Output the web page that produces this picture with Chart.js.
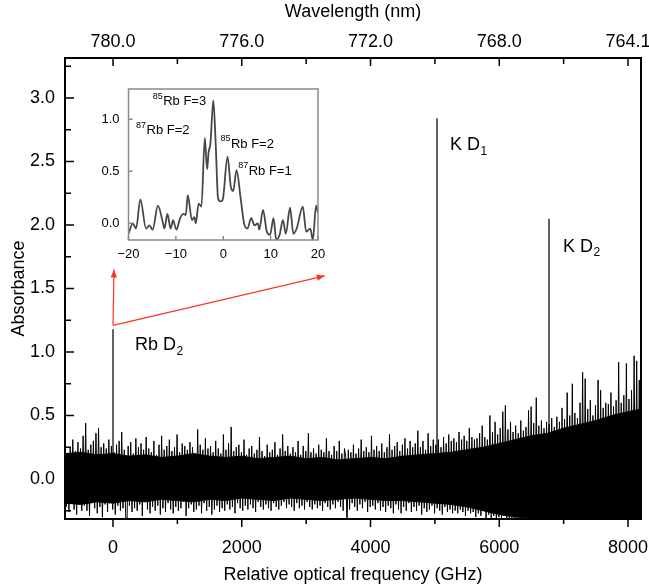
<!DOCTYPE html>
<html>
<head>
<meta charset="utf-8">
<title>Absorbance spectrum</title>
<script src="https://cdn.jsdelivr.net/npm/chart.js@4.4.1/dist/chart.umd.min.js"></script>
<style>
  html, body { margin: 0; padding: 0; background: #fff; }
  #wrap { position: relative; width: 649px; height: 586px; }
  #main { position: absolute; left: 0; top: 0; }
  #inset { position: absolute; left: 80px; top: 80px; }
</style>
</head>
<body>
<div id="wrap">
  <canvas id="main" width="649" height="586"></canvas>
  <canvas id="inset" width="250" height="190"></canvas>
</div>
<script>
// spectrum, one sample every 20 GHz from -745 GHz
const freqStart = -745;
const freqStep = 20;
const absorbance = [
  0.27,-0.22,0.2,-0.26,0.25,-0.18,0.31,-0.24,0.22,-0.28,0.29,-0.2,0.24,-0.25,0.34,-0.21,
  0.44,-0.25,0.23,-0.29,0.27,-0.19,0.3,-0.23,0.36,-0.27,0.4,-0.22,0.25,-0.3,0.28,-0.2,
  0.24,-0.26,0.31,-0.19,0.26,-0.24,0.21,-0.28,0.27,-0.21,0.3,-0.25,0.37,-0.23,0.23,-0.27,
  -0.45,0.26,-0.21,0.29,-0.26,0.2,-0.23,0.32,-0.25,0.25,-0.2,0.28,-0.29,0.23,-0.18,0.33,
  -0.24,0.24,-0.27,0.21,-0.22,0.3,-0.25,0.19,-0.21,0.27,-0.28,0.34,-0.23,0.23,-0.26,0.26,
  -0.19,0.31,-0.24,0.22,-0.27,0.25,-0.22,0.35,-0.25,0.21,-0.23,0.28,-0.18,0.26,-0.29,0.23,
  -0.23,0.29,-0.2,0.25,-0.26,0.2,-0.24,0.39,-0.21,0.27,-0.27,0.23,-0.19,0.32,-0.25,0.24,
  -0.22,0.26,-0.28,0.21,-0.24,0.3,-0.21,0.24,-0.26,0.2,-0.23,0.35,-0.25,0.23,-0.2,0.28,
  -0.24,0.41,-0.22,0.22,-0.27,0.25,-0.19,0.27,-0.23,0.21,-0.25,0.31,-0.21,0.19,-0.24,0.24,
  -0.2,0.26,-0.23,0.2,-0.26,0.23,-0.18,0.33,-0.22,0.22,-0.24,0.18,-0.2,0.27,-0.23,0.21,
  -0.25,0.23,-0.19,0.29,-0.22,0.19,-0.24,0.24,-0.21,0.35,-0.18,0.22,-0.23,0.26,-0.2,0.2,
  -0.22,0.25,-0.25,0.21,-0.19,0.3,-0.23,0.19,-0.21,0.26,-0.24,0.22,-0.18,0.36,-0.22,0.21,
  -0.24,0.24,-0.2,0.2,-0.23,0.27,-0.21,0.23,-0.25,0.21,-0.19,0.32,-0.22,0.22,-0.24,0.19,
  -0.2,0.26,-0.23,0.22,-0.18,0.3,-0.22,0.2,-0.25,0.24,0.18,-0.42,0.23,-0.24,0.21,-0.19,
  0.27,-0.22,0.2,-0.25,0.24,-0.2,0.31,-0.23,0.22,-0.18,0.25,-0.26,0.21,-0.22,0.34,-0.21,
  0.23,-0.24,0.26,-0.19,0.22,-0.25,0.28,-0.22,0.21,-0.26,0.25,-0.21,0.35,-0.23,0.23,-0.27,
  0.26,-0.2,0.29,-0.24,0.22,-0.27,0.27,-0.22,0.32,-0.25,0.24,-0.19,0.3,-0.26,0.25,-0.22,
  0.28,-0.25,0.38,-0.21,0.25,-0.28,0.3,-0.23,0.23,-0.26,0.36,-0.24,0.26,-0.21,0.31,-0.27,
  0.27,-0.23,0.31,-0.25,0.25,-0.28,0.33,-0.22,0.28,-0.26,0.35,-0.24,0.3,-0.27,0.32,-0.25,
  0.29,-0.27,0.37,-0.24,0.31,-0.26,0.34,-0.29,0.3,-0.25,0.4,-0.27,0.33,-0.26,0.31,-0.3,
  0.32,-0.27,0.36,-0.29,0.42,-0.25,0.33,-0.31,0.31,-0.28,0.5,-0.31,0.37,-0.29,0.45,-0.32,
  0.35,-0.3,0.4,-0.32,0.53,-0.29,0.58,-0.34,0.39,-0.31,0.45,-0.33,0.37,-0.32,0.42,-0.3,
  0.36,-0.3,0.46,-0.27,0.38,-0.32,0.41,-0.29,0.54,-0.31,0.57,-0.28,0.44,-0.33,0.64,-0.3,
  0.42,-0.31,0.46,-0.34,0.4,-0.3,0.45,-0.33,0.43,-0.29,0.48,-0.35,0.41,-0.32,0.49,-0.3,
  0.45,-0.34,0.56,-0.31,0.47,-0.36,0.68,-0.33,0.5,-0.3,0.75,-0.35,0.52,-0.33,0.48,-0.36,
  0.6,-0.32,0.84,-0.35,0.79,-0.34,0.55,-0.37,0.62,-0.33,0.5,-0.36,0.58,-0.34,0.78,-0.35,
  0.7,-0.36,0.56,-0.33,0.6,-0.37,0.59,-0.34,0.68,-0.35,0.57,-0.38,0.62,-0.34,0.92,-0.36,
  0.6,-0.35,0.66,-0.37,0.91,-0.34,0.63,-0.38,0.7,-0.36,0.97,-0.35,0.93,-0.37,0.78,-0.36
];

// the dense, fully black part of the noise band (upper and lower edge)
const coreFreq = [-746, -500, -250, 0, 250, 500, 750, 1000, 1250, 1500, 1750, 2000, 2250,
  2500, 2750, 3000, 3250, 3500, 3750, 4000, 4250, 4500, 4750, 5000, 5250, 5500,
  5750, 6000, 6250, 6500, 6750, 7000, 7250, 7500, 7750, 8000, 8202];
const coreTop = [0.2, 0.21, 0.19, 0.2, 0.18, 0.19, 0.17, 0.18, 0.2, 0.18, 0.17, 0.18, 0.16,
  0.17, 0.18, 0.16, 0.17, 0.15, 0.16, 0.17, 0.16, 0.18, 0.19, 0.2, 0.21, 0.23,
  0.25, 0.28, 0.31, 0.34, 0.36, 0.4, 0.43, 0.46, 0.5, 0.53, 0.55];
const coreBottom = [-0.19, -0.2, -0.18, -0.19, -0.17, -0.18, -0.16, -0.17, -0.18, -0.16, -0.17, -0.15, -0.16,
  -0.17, -0.15, -0.16, -0.17, -0.16, -0.15, -0.16, -0.17, -0.17, -0.18, -0.19, -0.2, -0.22,
  -0.25, -0.28, -0.3, -0.31, -0.33, -0.34, -0.34, -0.34, -0.34, -0.34, -0.34];

// the three resonance lines
const lineNames = ['Rb D', 'K D', 'K D'];
const lineSubs = ['2', '1', '2'];
const lineFreq = [0, 5033, 6773];
const lineHeight = [1.18, 2.84, 2.05];

// axis ticks
const freqTicks = [0, 2000, 4000, 6000, 8000];
const freqMinor = [1000, 3000, 5000, 7000];
const wavelengthLabels = ['780.0', '776.0', '772.0', '768.0', '764.1'];
const absTicks = [0, 0.5, 1, 1.5, 2, 2.5, 3];
const absMinor = [-0.25, 0.25, 0.75, 1.25, 1.75, 2.25, 2.75, 3.25];

// inset: zoom on Rb D2, detuning (GHz) vs absorbance
const insetFreq = [-20, -19.1, -18.4, -17.5, -16.3, -15.6, -14.9, -13.8, -12.7, -12.4,
  -11.8, -11.1, -10.6, -9.9, -9.1, -8.4, -7.9, -7.5, -6.6, -6.1,
  -5.8, -5.2, -4.6, -3.9, -3.4, -3.1, -2.7, -2.1, -1.6, -1.1,
  -0.6, -0.1, 0.9, 1.6, 2.1, 2.8, 3.7, 4.4, 5.1, 5.9,
  6.6, 7.3, 7.6, 8.4, 9.2, 9.9, 10.6, 11.2, 11.9, 12.6,
  13.2, 14.1, 14.8, 15.5, 16.8, 17.5, 18.4, 18.9, 19.6, 20];
const insetAbs = [-0.10, 0.00, -0.05, 0.23, -0.05, -0.02, -0.06, 0.17, 0.00, -0.05,
  0.09, -0.05, 0.03, -0.06, 0.05, 0.09, 0.08, 0.27, 0.03, 0.06,
  0.00, 0.19, 0.16, 0.82, 0.52, 0.68, 0.77, 1.18, 0.77, 0.24,
  0.21, 0.23, 0.64, 0.35, 0.31, 0.51, 0.23, 0.00, -0.05, 0.05,
  -0.02, 0.00, -0.06, 0.13, -0.08, -0.11, 0.05, -0.16, -0.11, 0.03,
  -0.10, 0.15, -0.10, -0.05, 0.16, -0.08, -0.05, -0.16, 0.17, 0.10];
const insetXTicks = [-20, -10, 0, 10, 20];
const insetYTicks = [0, 0.5, 1];
const insetIso = ['85', '87', '85', '87'];
const insetLevel = ['Rb F=3', 'Rb F=2', 'Rb F=2', 'Rb F=1'];

// where the text labels sit (data units)
const lineLabelPos = [[342, 1.055], [5235, 2.63], [6990, 1.83]];
const insetLabelPos = [[-14.9, 1.17], [-18.4, 0.89], [-0.6, 0.76], [3.15, 0.50]];
const arrowFrom = [0, 1.21];
const arrowTo = [[15, 1.65], [3290, 1.60]];

const FONT = "'Liberation Sans', Arial, Helvetica, sans-serif";
Chart.defaults.font.family = FONT;
Chart.defaults.color = '#000';

let spectrum = absorbance.map((v, i) => ({x: freqStart + i * freqStep, y: v}));
let lines = [];
lineFreq.forEach((f, i) => {
  lines.push({x: f, y: 0}, {x: f, y: lineHeight[i]}, {x: f, y: null});
});

function subLabel(ctx, text, sub, px, py, size) {
  ctx.textAlign = 'left';
  ctx.textBaseline = 'middle';
  ctx.font = size + 'px ' + FONT;
  ctx.fillText(text, px, py);
  let w = ctx.measureText(text).width;
  ctx.font = Math.round(size * 0.68) + 'px ' + FONT;
  ctx.fillText(sub, px + w + 0.5, py + size * 0.36);
}

function supLabel(ctx, sup, text, px, py, size) {
  ctx.textAlign = 'left';
  ctx.textBaseline = 'middle';
  ctx.font = Math.round(size * 0.7) + 'px ' + FONT;
  ctx.fillText(sup, px, py - size * 0.42);
  let w = ctx.measureText(sup).width;
  ctx.font = size + 'px ' + FONT;
  ctx.fillText(text, px + w + 0.5, py);
}

function arrow(ctx, x0, y0, x1, y1) {
  ctx.beginPath();
  ctx.moveTo(x0, y0);
  ctx.lineTo(x1, y1);
  ctx.stroke();
  let ang = Math.atan2(y1 - y0, x1 - x0);
  let L = 8, W = 3.2;
  ctx.beginPath();
  ctx.moveTo(x1, y1);
  ctx.lineTo(x1 - L * Math.cos(ang) + W * Math.sin(ang), y1 - L * Math.sin(ang) - W * Math.cos(ang));
  ctx.lineTo(x1 - L * Math.cos(ang) - W * Math.sin(ang), y1 - L * Math.sin(ang) + W * Math.cos(ang));
  ctx.closePath();
  ctx.fill();
}

// frame, tick marks, labels and arrows on the main plot
const mainDecor = {
  id: 'mainDecor',
  afterDraw(chart) {
    const ctx = chart.ctx;
    const a = chart.chartArea;
    const x = chart.scales.x, y = chart.scales.y;
    ctx.save();
    ctx.strokeStyle = '#000';
    ctx.lineWidth = 2;
    ctx.strokeRect(a.left, a.top, a.right - a.left, a.bottom - a.top);

    ctx.lineWidth = 1.5;
    ctx.beginPath();
    freqTicks.forEach(v => {
      let px = x.getPixelForValue(v);
      ctx.moveTo(px, a.bottom); ctx.lineTo(px, a.bottom + 8);
      ctx.moveTo(px, a.top); ctx.lineTo(px, a.top + 8);
    });
    freqMinor.forEach(v => {
      let px = x.getPixelForValue(v);
      ctx.moveTo(px, a.bottom); ctx.lineTo(px, a.bottom + 5);
      ctx.moveTo(px, a.top); ctx.lineTo(px, a.top + 6);
    });
    absTicks.forEach(v => {
      let py = y.getPixelForValue(v);
      ctx.moveTo(a.left, py); ctx.lineTo(a.left + 9, py);
    });
    absMinor.forEach(v => {
      let py = y.getPixelForValue(v);
      ctx.moveTo(a.left, py); ctx.lineTo(a.left + 6, py);
    });
    ctx.stroke();

    ctx.fillStyle = '#000';
    lineNames.forEach((t, i) => {
      subLabel(ctx, t, lineSubs[i], x.getPixelForValue(lineLabelPos[i][0]), y.getPixelForValue(lineLabelPos[i][1]), 18);
    });

    ctx.strokeStyle = '#ff3322';
    ctx.fillStyle = '#ff3322';
    ctx.lineWidth = 1.2;
    let x0 = x.getPixelForValue(arrowFrom[0]), y0 = y.getPixelForValue(arrowFrom[1]);
    arrowTo.forEach(p => arrow(ctx, x0, y0, x.getPixelForValue(p[0]), y.getPixelForValue(p[1])));
    ctx.restore();
  }
};

const insetDecor = {
  id: 'insetDecor',
  afterDraw(chart) {
    const ctx = chart.ctx;
    const a = chart.chartArea;
    const x = chart.scales.x, y = chart.scales.y;
    ctx.save();
    ctx.strokeStyle = '#8a8a8a';
    ctx.lineWidth = 1.5;
    ctx.strokeRect(a.left, a.top, a.right - a.left, a.bottom - a.top);
    ctx.beginPath();
    insetXTicks.forEach(v => {
      let px = x.getPixelForValue(v);
      ctx.moveTo(px, a.bottom); ctx.lineTo(px, a.bottom - 4);
    });
    insetYTicks.forEach(v => {
      let py = y.getPixelForValue(v);
      ctx.moveTo(a.left, py); ctx.lineTo(a.left + 4, py);
    });
    ctx.stroke();
    ctx.fillStyle = '#000';
    insetIso.forEach((s, i) => {
      supLabel(ctx, s, insetLevel[i], x.getPixelForValue(insetLabelPos[i][0]), y.getPixelForValue(insetLabelPos[i][1]), 13);
    });
    ctx.restore();
  }
};

const axisFont = {family: FONT, size: 18};

new Chart(document.getElementById('main'), {
  type: 'line',
  data: {
    datasets: [{
      data: lines,
      borderColor: '#3a3a3a',
      borderWidth: 1.6,
      pointRadius: 0,
      spanGaps: false,
      order: 10
    }, {
      data: spectrum,
      borderColor: '#000',
      borderWidth: 1,
      pointRadius: 0,
      order: 0
    }, {
      data: coreFreq.map((f, i) => ({x: f, y: coreTop[i]})),
      borderColor: '#000',
      borderWidth: 1,
      backgroundColor: '#000',
      pointRadius: 0,
      fill: '+1',
      order: 5
    }, {
      data: coreFreq.map((f, i) => ({x: f, y: coreBottom[i]})),
      borderColor: '#000',
      borderWidth: 1,
      pointRadius: 0,
      fill: false,
      order: 5
    }]
  },
  options: {
    responsive: false,
    animation: false,
    devicePixelRatio: 1,
    layout: {padding: {left: 0, right: 8, top: 0, bottom: 0}},
    plugins: {legend: {display: false}, tooltip: {enabled: false}},
    scales: {
      x: {
        type: 'linear', position: 'bottom', min: -746, max: 8202,
        grid: {display: false, drawTicks: false}, border: {display: false},
        afterBuildTicks: s => { s.ticks = freqTicks.map(v => ({value: v})); },
        afterFit: s => { s.height = 67; s.paddingLeft = 0; s.paddingRight = 0; },
        ticks: {padding: 18, maxRotation: 0, font: axisFont, color: '#000', callback: v => String(v)},
        title: {display: true, text: 'Relative optical frequency (GHz)', font: axisFont, color: '#000', padding: {top: 0, bottom: 0}}
      },
      x2: {
        type: 'linear', position: 'top', min: -746, max: 8202,
        grid: {display: false, drawTicks: false}, border: {display: false},
        afterBuildTicks: s => { s.ticks = freqTicks.map(v => ({value: v})); },
        afterFit: s => { s.height = 58; s.paddingLeft = 0; s.paddingRight = 0; },
        ticks: {padding: 5, maxRotation: 0, font: axisFont, color: '#000',
          callback: v => wavelengthLabels[freqTicks.indexOf(v)]},
        title: {display: true, text: 'Wavelength (nm)', font: axisFont, color: '#000', padding: {top: 1, bottom: 0}}
      },
      y: {
        type: 'linear', min: -0.315, max: 3.315,
        grid: {display: false, drawTicks: false}, border: {display: false},
        afterBuildTicks: s => { s.ticks = absTicks.map(v => ({value: v})); },
        afterFit: s => { s.width = 65; s.paddingTop = 0; s.paddingBottom = 0; },
        ticks: {padding: 10, font: axisFont, color: '#000', callback: v => v.toFixed(1)},
        title: {display: true, text: 'Absorbance', font: axisFont, color: '#000', padding: {top: 8, bottom: 0}}
      }
    }
  },
  plugins: [mainDecor]
});

const insetFont = {family: FONT, size: 13};

new Chart(document.getElementById('inset'), {
  type: 'line',
  data: {
    datasets: [{
      data: insetFreq.map((f, i) => ({x: f, y: insetAbs[i]})),
      borderColor: '#474747',
      borderWidth: 1.8,
      pointRadius: 0,
      cubicInterpolationMode: 'monotone'
    }]
  },
  options: {
    responsive: false,
    animation: false,
    devicePixelRatio: 1,
    layout: {padding: {left: 0, right: 12, top: 9, bottom: 0}},
    plugins: {legend: {display: false}, tooltip: {enabled: false}},
    scales: {
      x: {
        type: 'linear', min: -20, max: 20,
        grid: {display: false, drawTicks: false}, border: {display: false},
        afterBuildTicks: s => { s.ticks = insetXTicks.map(v => ({value: v})); },
        afterFit: s => { s.height = 30; s.paddingLeft = 0; s.paddingRight = 0; },
        ticks: {padding: 7, maxRotation: 0, font: insetFont, color: '#000',
          callback: v => String(v).replace('-', '\u2212')}
      },
      y: {
        type: 'linear', min: -0.16, max: 1.29,
        grid: {display: false, drawTicks: false}, border: {display: false},
        afterBuildTicks: s => { s.ticks = insetYTicks.map(v => ({value: v})); },
        afterFit: s => { s.width = 48.5; s.paddingTop = 0; s.paddingBottom = 0; },
        ticks: {padding: 9, font: insetFont, color: '#000', callback: v => v.toFixed(1)}
      }
    }
  },
  plugins: [insetDecor]
});
</script>
</body>
</html>
